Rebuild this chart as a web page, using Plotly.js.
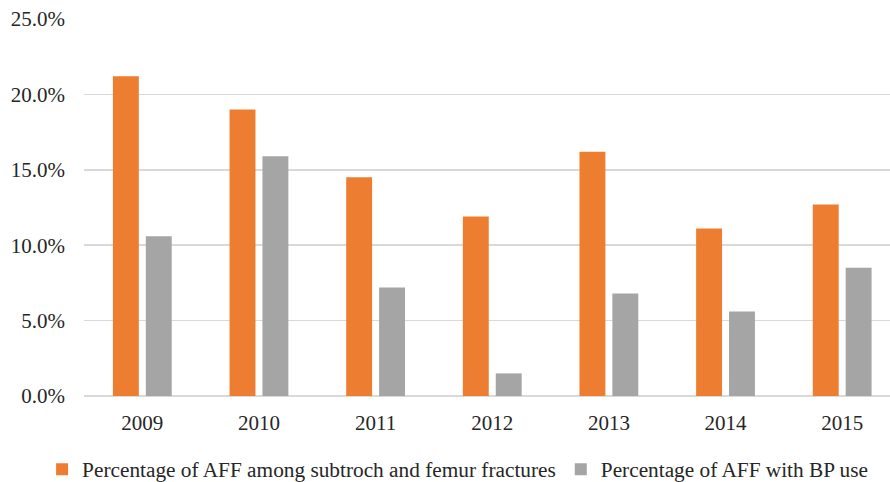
<!DOCTYPE html>
<html><head><meta charset="utf-8">
<script src="https://cdn.plot.ly/plotly-3.0.1.min.js"></script>
<style>html,body{margin:0;padding:0;background:#fff;}#chart{width:890px;height:482px;}</style>
</head><body><div id="chart"></div>
<script>
const years = ['2009','2010','2011','2012','2013','2014','2015'];
const affAmongFractures = [21.2, 19.0, 14.5, 11.9, 16.2, 11.1, 12.7];
const affWithBP = [10.6, 15.9, 7.2, 1.5, 6.8, 5.6, 8.5];
const seriesNames = ['Percentage of AFF among subtroch and femur fractures', 'Percentage of AFF with BP use'];

const font = {family: 'Liberation Serif, Times New Roman, serif', size: 21, color: '#262626'};
const legendFont = {family: 'Liberation Serif, Times New Roman, serif', size: 21.3, color: '#262626'};
const data = [
  {type: 'bar', x: years, y: affAmongFractures, name: seriesNames[0], marker: {color: '#ED7D31'}, hoverinfo: 'none'},
  {type: 'bar', x: years, y: affWithBP, name: seriesNames[1], marker: {color: '#A5A5A5'}, hoverinfo: 'none'}
];
const layout = {
  width: 890, height: 482,
  margin: {l: 84, r: 0, t: 19, b: 86, autoexpand: false},
  paper_bgcolor: '#fff', plot_bgcolor: '#fff',
  font: font,
  barmode: 'group', bargap: 0.436, bargroupgap: 0.212,
  showlegend: true,
  legend: {orientation: 'h', x: -0.052, xanchor: 'left', y: -0.14, yanchor: 'top', font: legendFont, itemwidth: 30, tracegroupgap: 0},
  xaxis: {type: 'category', range: [-0.5, 6.41], showgrid: false, showline: false, zeroline: false, ticks: '', tickfont: font, ticklabelstandoff: 12, fixedrange: true, automargin: false},
  yaxis: {range: [0, 25], dtick: 5, tickformat: '.1f', ticksuffix: '%', showgrid: true, gridcolor: '#d9d9d9', gridwidth: 1.5,
          zeroline: true, zerolinecolor: '#d9d9d9', zerolinewidth: 1.5, showline: false, ticks: '', tickfont: font, ticklabelstandoff: 18, fixedrange: true, automargin: false}
};
Plotly.newPlot('chart', data, layout, {displayModeBar: false, staticPlot: true});
</script></body></html>
